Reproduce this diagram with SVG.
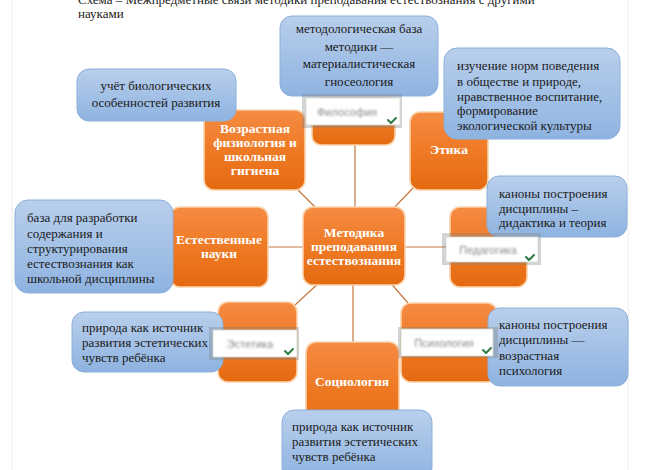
<svg xmlns="http://www.w3.org/2000/svg" width="666" height="470" viewBox="0 0 666 470">
<defs>
<linearGradient id="og" x1="0" y1="0" x2="0" y2="1">
<stop offset="0" stop-color="#F58B43"/>
<stop offset="0.5" stop-color="#EF7A25"/>
<stop offset="1" stop-color="#E46A10"/>
</linearGradient>
<linearGradient id="bg" x1="0" y1="0" x2="0" y2="1">
<stop offset="0" stop-color="#B9CFEC"/>
<stop offset="1" stop-color="#8EB3E0"/>
</linearGradient>
<filter id="blur" x="-30%" y="-80%" width="160%" height="260%">
<feGaussianBlur stdDeviation="1.3"/>
</filter>
</defs>
<style>
.o{fill:url(#og);stroke:#FAD2AA;stroke-width:1.6}
.b{fill:url(#bg);stroke:#8CB0DC;stroke-width:1}
.ot{font-family:"Liberation Serif",serif;font-size:13.5px;font-weight:bold;fill:#fff;text-anchor:middle}
.t{font-family:"Liberation Serif",serif;font-size:13px;fill:#1a1a1a}
.c{text-anchor:middle}
.ln{stroke:#C77840;stroke-width:1.2;fill:none}
.sh{fill:#808080;fill-opacity:0.35}
.wl{fill:#fff;stroke:#cfd8cf;stroke-width:0.8}
.bt{font-family:"Liberation Sans",sans-serif;font-size:11px;fill:#8a8a8a;text-anchor:middle;filter:url(#blur)}
.ck{fill:none;stroke:#2E7A45;stroke-width:2;stroke-linecap:round;stroke-linejoin:round}
</style>
<rect width="666" height="470" fill="#fff"/>
<line x1="12" y1="0" x2="12" y2="470" stroke="#ececec"/>
<line x1="628" y1="0" x2="628" y2="470" stroke="#ececec"/>
<text class="t" x="78" y="4" font-size="13.5">Схема – Межпредметные связи методики преподавания естествознания с другими</text>
<text class="t" x="78" y="18" font-size="13.5">науками</text>

<g id="connectors">
<line class="ln" x1="355" y1="207" x2="355" y2="145"/>
<line class="ln" x1="323" y1="215" x2="296" y2="188"/>
<line class="ln" x1="303" y1="247" x2="268" y2="247"/>
<line class="ln" x1="322" y1="280" x2="295" y2="305"/>
<line class="ln" x1="353" y1="285" x2="353" y2="342"/>
<line class="ln" x1="388" y1="280" x2="408" y2="303"/>
<line class="ln" x1="405" y1="247" x2="450" y2="247"/>
<line class="ln" x1="390" y1="212" x2="413" y2="188"/>
</g>

<g id="center">
<rect class="o" x="303" y="207" width="102" height="78" rx="10"/>
<text class="ot" x="354" y="237">Методика</text>
<text class="ot" x="354" y="251">преподавания</text>
<text class="ot" x="354" y="265">естествознания</text>
</g>

<g id="filosofia">
<rect class="o" x="312" y="98" width="83" height="47" rx="9"/>
</g>
<g id="vozrastnaya">
<rect class="o" x="204" y="110" width="101" height="80" rx="10"/>
<text class="ot" x="255" y="133">Возрастная</text>
<text class="ot" x="255" y="147">физиология и</text>
<text class="ot" x="255" y="161">школьная</text>
<text class="ot" x="255" y="175">гигиена</text>
</g>
<g id="estestv">
<rect class="o" x="170" y="207" width="98" height="80" rx="10"/>
<text class="ot" x="219" y="244">Естественные</text>
<text class="ot" x="219" y="258">науки</text>
</g>
<g id="estetika">
<rect class="o" x="218" y="302" width="79" height="80" rx="10"/>
</g>
<g id="sociologia">
<rect class="o" x="306" y="342" width="93" height="88" rx="10"/>
<text class="ot" x="352" y="386">Социология</text>
</g>
<g id="psihologia">
<rect class="o" x="401" y="303" width="96" height="79" rx="10"/>
</g>
<g id="pedagogika">
<rect class="o" x="450" y="207" width="77" height="80" rx="10"/>
</g>
<g id="etika">
<rect class="o" x="410" y="112" width="78" height="78" rx="10"/>
<text class="ot" x="449" y="154">Этика</text>
</g>

<g id="note-top">
<rect class="b" x="280" y="16" width="158" height="80" rx="12"/>
<text class="t c" x="359" y="33">методологическая база</text>
<text class="t c" x="359" y="51">методики —</text>
<text class="t c" x="359" y="68">материалистическая</text>
<text class="t c" x="359" y="86">гносеология</text>
</g>
<g id="note-vozr">
<rect class="b" x="77" y="69" width="159" height="52" rx="12"/>
<text class="t c" x="156" y="90">учёт биологических</text>
<text class="t c" x="156" y="107">особенностей развития</text>
</g>
<g id="note-estestv">
<rect class="b" x="15" y="200" width="158" height="93" rx="13"/>
<text class="t" x="27" y="222">база для разработки</text>
<text class="t" x="27" y="238">содержания и</text>
<text class="t" x="27" y="253">структурирования</text>
<text class="t" x="27" y="268">естествознания как</text>
<text class="t" x="27" y="283">школьной дисциплины</text>
</g>
<g id="note-estetika">
<rect class="b" x="72" y="312" width="151" height="60" rx="12"/>
<text class="t" x="82" y="332">природа как источник</text>
<text class="t" x="82" y="347">развития эстетических</text>
<text class="t" x="82" y="362">чувств ребёнка</text>
</g>
<g id="note-socio">
<rect class="b" x="282" y="410" width="150" height="70" rx="12"/>
<text class="t" x="292" y="431">природа как источник</text>
<text class="t" x="292" y="446">развития эстетических</text>
<text class="t" x="292" y="461">чувств ребёнка</text>
</g>
<g id="note-psih">
<rect class="b" x="488" y="308" width="140" height="78" rx="12"/>
<text class="t" x="499" y="329">каноны построения</text>
<text class="t" x="499" y="344">дисциплины —</text>
<text class="t" x="499" y="360">возрастная</text>
<text class="t" x="499" y="375">психология</text>
</g>
<g id="note-ped">
<rect class="b" x="487" y="176" width="140" height="61" rx="12"/>
<text class="t" x="499" y="198">каноны построения</text>
<text class="t" x="499" y="213">дисциплины –</text>
<text class="t" x="499" y="227">дидактика и теория</text>
</g>
<g id="note-etika">
<rect class="b" x="444" y="48" width="176" height="91" rx="13"/>
<text class="t" x="457" y="70">изучение норм поведения</text>
<text class="t" x="457" y="86">в обществе и природе,</text>
<text class="t" x="457" y="101">нравственное воспитание,</text>
<text class="t" x="457" y="115">формирование</text>
<text class="t" x="457" y="130">экологической культуры</text>
</g>

<g id="label-filosofia">
<rect class="sh" x="302" y="94" width="100" height="34"/>
<rect class="wl" x="306" y="98" width="94" height="27"/>
<text class="bt" x="347" y="116">Философия</text>
<path class="ck" d="M388 120 l3 3 l5 -5"/>
</g>
<g id="label-pedagogika">
<rect class="sh" x="442" y="233" width="99" height="32"/>
<rect class="wl" x="446" y="237" width="92" height="25"/>
<text class="bt" x="488" y="254">Педагогика</text>
<path class="ck" d="M526 257 l3 3 l5 -5"/>
</g>
<g id="label-estetika">
<rect class="sh" x="209" y="327" width="90" height="33"/>
<rect class="wl" x="213" y="330" width="84" height="27"/>
<text class="bt" x="250" y="348">Эстетика</text>
<path class="ck" d="M285 351 l3 3 l5 -5"/>
</g>
<g id="label-psihologia">
<rect class="sh" x="398" y="327" width="100" height="31"/>
<rect class="wl" x="401" y="329" width="92" height="27"/>
<text class="bt" x="444" y="347">Психология</text>
<path class="ck" d="M483 350 l3 3 l5 -5"/>
</g>
</svg>
